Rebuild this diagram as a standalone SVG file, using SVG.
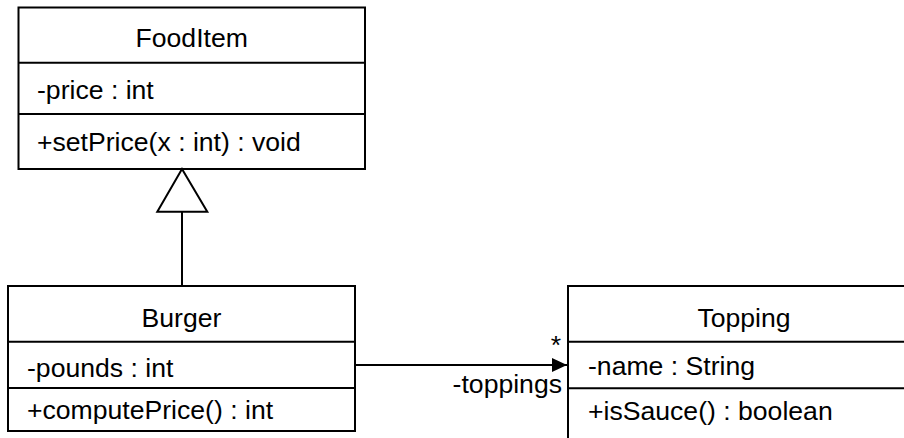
<svg xmlns="http://www.w3.org/2000/svg" width="904" height="438" viewBox="0 0 904 438">
<defs>
<style>
.box{fill:#fff;stroke:#000;stroke-width:2}
.sep{stroke:#000;stroke-width:2}
text{font-family:"Liberation Sans",Arial,sans-serif;font-size:26.6px;fill:#000}
.c{text-anchor:middle}
.conn{stroke:#000;stroke-width:2;fill:none}
</style>
<marker id="filled" markerUnits="userSpaceOnUse" markerWidth="16" markerHeight="16" viewBox="0 0 16 16" refX="15" refY="8" orient="auto">
<path d="M0,1 L15,8 L0,15 Z" fill="#000"/>
</marker>
</defs>
<rect width="904" height="438" fill="#fff"/>
<g id="FoodItem">
<rect class="box" x="18.5" y="7.5" width="346.5" height="161.5"/>
<line class="sep" x1="18.5" y1="62.7" x2="365" y2="62.7"/>
<line class="sep" x1="18.5" y1="114" x2="365" y2="114"/>
<text class="c" x="191.7" y="47">FoodItem</text>
<text x="37" y="99">-price : int</text>
<text x="37" y="151">+setPrice(x : int) : void</text>
</g>
<g id="Burger">
<rect class="box" x="8" y="286" width="347" height="145"/>
<line class="sep" x1="8" y1="341.7" x2="355" y2="341.7"/>
<line class="sep" x1="8" y1="388" x2="355" y2="388"/>
<text class="c" x="181.5" y="327">Burger</text>
<text x="27" y="377">-pounds : int</text>
<text x="27" y="419">+computePrice() : int</text>
</g>
<g id="Topping">
<rect class="box" x="568" y="286" width="352" height="180"/>
<line class="sep" x1="568" y1="341.7" x2="920" y2="341.7"/>
<line class="sep" x1="568" y1="388.3" x2="920" y2="388.3"/>
<text class="c" x="744" y="327">Topping</text>
<text x="588" y="375">-name : String</text>
<text x="588" y="420">+isSauce() : boolean</text>
</g>
<g id="connectors">
<polyline class="conn" points="182,286 182,211.7"/>
<polygon points="182,169 157.3,211.7 207.3,211.7" fill="#fff" stroke="#000" stroke-width="2"/>
<line class="conn" x1="355" y1="365" x2="567" y2="365" marker-end="url(#filled)"/>
<text x="556" y="354" text-anchor="middle">*</text>
<text x="562" y="393" text-anchor="end">-toppings</text>
</g>
</svg>
